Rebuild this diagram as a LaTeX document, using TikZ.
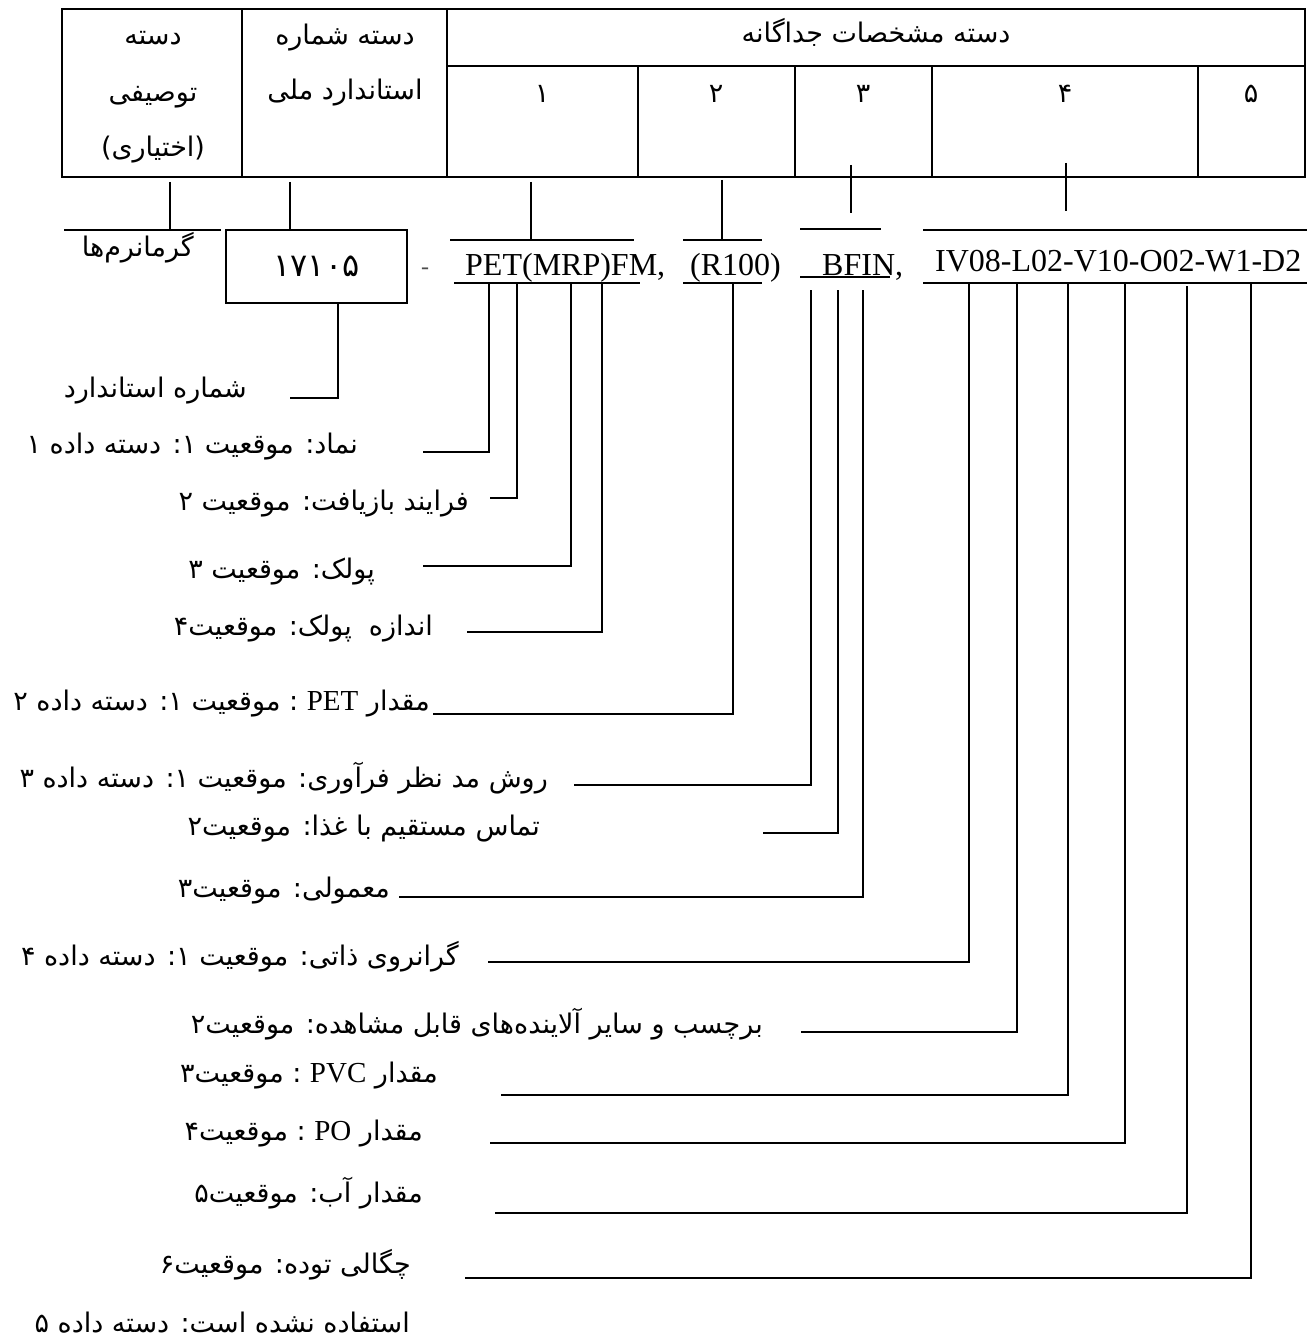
\documentclass[tikz,border=0pt]{standalone}
\usepackage{fontspec}
\setmainfont{Liberation Serif}
\newfontfamily\fa[Script=Arabic]{DejaVu Sans}
\newfontfamily\lat{Liberation Serif}
\TeXXeTstate=1
\newcommand\latin[1]{{\lat\fontsize{29}{32}\selectfont #1}}
\begin{document}
\begin{tikzpicture}[x=1pt,y=-1pt,
  tbl/.style={line width=2pt},
  ln/.style={line width=1.3pt},
  fa/.style={font=\fa\fontsize{27}{31}\selectfont, inner sep=0pt},
  lt/.style={font=\lat\fontsize{32}{36}\selectfont, inner sep=0pt},
  lab/.style={fa, anchor=base east}]
\useasboundingbox (0,0) rectangle (1315,1340);
% table
\draw[tbl] (62,9) rectangle (1305,177);
\draw[tbl] (242,9) -- (242,177);
\draw[tbl] (447,9) -- (447,177);
\draw[tbl] (447,66) -- (1305,66);
\draw[tbl] (638,66) -- (638,177);
\draw[tbl] (795,66) -- (795,177);
\draw[tbl] (932,66) -- (932,177);
\draw[tbl] (1198,66) -- (1198,177);
\node[fa, anchor=base] (a1) at (153,45) {\beginR دسته\endR};
\node[fa, anchor=base] (a2) at (153,102) {\beginR توصیفی\endR};
\node[fa, anchor=base] (a3) at (153,157) {\beginR (اختیاری)\endR};
\node[fa, anchor=base] (b1) at (345,45) {\beginR دسته شماره\endR};
\node[fa, anchor=base] (b2) at (345,100) {\beginR استاندارد ملی\endR};
\node[fa, anchor=base] (hd) at (876,43) {\beginR دسته مشخصات جداگانه\endR};
\node[fa, anchor=base] (c1) at (542,103) {۱};
\node[fa, anchor=base] (c2) at (716,103) {۲};
\node[fa, anchor=base] (c3) at (863,103) {۳};
\node[fa, anchor=base] (c4) at (1065,103) {۴};
\node[fa, anchor=base] (c5) at (1251,103) {۵};
% descriptive
\coordinate (t1a) at (170,182); \coordinate (t1b) at (170,230);
\draw[ln] (t1a) -- (t1b);
\coordinate (g1) at (64,230); \coordinate (g2) at (221,230);
\draw[ln] (g1) -- (g2);
\node[lab] (gram) at (194,257) {\beginR گرمانرم^^^^200cها\endR};
% standard number box
\node[draw, ln, minimum width=181pt, minimum height=73pt, fa, font=\fa\fontsize{32}{36}\selectfont, inner sep=0pt] (box) at (316.5,266.5) {۱۷۱۰۵};
\coordinate (t2a) at (290,182);
\draw[ln] (t2a) -- (t2a |- box.north);
\coordinate (bs) at (338,303); \coordinate (es) at (290,398);
\draw[ln] (bs) |- (es);
\node[lab] (lstd) at (247,397) {\beginR شماره استاندارد\endR};
\node[font=\lat\fontsize{24}{28}\selectfont, inner sep=0pt, text=black!70] (dash) at (425,271) {-};
% group 1
\node[lt, anchor=base west] (pet) at (465,275) {PET(MRP)FM,};
\coordinate (t3a) at (531,182); \coordinate (t3b) at (531,240);
\draw[ln] (t3a) -- (t3b);
\coordinate (pu1) at (450,240); \coordinate (pu2) at (634,240);
\coordinate (pl1) at (454,283); \coordinate (pl2) at (640,283);
\draw[ln] (pu1) -- (pu2); \draw[ln] (pl1) -- (pl2);
\coordinate (q1) at (489,283); \coordinate (e1) at (423,452);
\coordinate (q2) at (517,283); \coordinate (e2) at (490,498);
\coordinate (q3) at (571,283); \coordinate (e3) at (423,566);
\coordinate (q4) at (602,283); \coordinate (e4) at (467,632);
\draw[ln] (q1) |- (e1); \draw[ln] (q2) |- (e2);
\draw[ln] (q3) |- (e3); \draw[ln] (q4) |- (e4);
\node[lab] (l1) at (358,453) {\beginR نماد: موقعیت ۱: دسته داده ۱\endR};
\node[lab] (l2) at (469,510) {\beginR فرایند بازیافت: موقعیت ۲\endR};
\node[lab] (l3) at (375,578) {\beginR پولک: موقعیت ۳\endR};
\node[lab] (l4) at (433,635) {\beginR اندازه\ \ پولک: موقعیت۴\endR};
% group 2
\node[lt, anchor=base west] (r100) at (690,275) {(R100)};
\coordinate (t4a) at (722,180); \coordinate (t4b) at (722,240);
\draw[ln] (t4a) -- (t4b);
\coordinate (ru1) at (683,240); \coordinate (ru2) at (762,240);
\coordinate (rl1) at (683,283); \coordinate (rl2) at (762,283);
\draw[ln] (ru1) -- (ru2); \draw[ln] (rl1) -- (rl2);
\coordinate (rq) at (733,283); \coordinate (er) at (433,714);
\draw[ln] (rq) |- (er);
\node[lab] (l5) at (430,710) {\beginR مقدار \latin{PET} : موقعیت ۱: دسته داده ۲\endR};
% group 3
\node[lt, anchor=base west] (bfin) at (822,275) {BFIN,};
\coordinate (t5a) at (851,165); \coordinate (t5b) at (851,213);
\draw[ln] (t5a) -- (t5b);
\coordinate (bu1) at (800,229); \coordinate (bu2) at (881,229);
\coordinate (bl1) at (800,277); \coordinate (bl2) at (890,277);
\draw[ln] (bu1) -- (bu2); \draw[ln] (bl1) -- (bl2);
\coordinate (b1q) at (811,290); \coordinate (eb1) at (574,785);
\coordinate (b2q) at (838,290); \coordinate (eb2) at (763,833);
\coordinate (b3q) at (863,290); \coordinate (eb3) at (399,897);
\draw[ln] (b1q) |- (eb1); \draw[ln] (b2q) |- (eb2); \draw[ln] (b3q) |- (eb3);
\node[lab] (l6) at (548,787) {\beginR روش مد نظر فرآوری: موقعیت ۱: دسته داده ۳\endR};
\node[lab] (l7) at (540,835) {\beginR تماس مستقیم با غذا: موقعیت۲\endR};
\node[lab] (l8) at (390,897) {\beginR معمولی: موقعیت۳\endR};
% group 4
\node[lt, anchor=base west] (iv) at (935,272) {IV08-L02-V10-O02-W1-D2};
\coordinate (t6a) at (1066,163); \coordinate (t6b) at (1066,211);
\draw[ln] (t6a) -- (t6b);
\coordinate (iu1) at (923,230); \coordinate (iu2) at (1307,230);
\coordinate (il1) at (923,283); \coordinate (il2) at (1307,283);
\draw[ln] (iu1) -- (iu2); \draw[ln] (il1) -- (il2);
\coordinate (i1) at (969,283);  \coordinate (f1) at (488,962);
\coordinate (i2) at (1017,283); \coordinate (f2) at (801,1032);
\coordinate (i3) at (1068,283); \coordinate (f3) at (501,1095);
\coordinate (i4) at (1125,283); \coordinate (f4) at (490,1143);
\coordinate (i5) at (1187,286); \coordinate (f5) at (495,1213);
\coordinate (i6) at (1251,283); \coordinate (f6) at (465,1278);
\draw[ln] (i1) |- (f1); \draw[ln] (i2) |- (f2); \draw[ln] (i3) |- (f3);
\draw[ln] (i4) |- (f4); \draw[ln] (i5) |- (f5); \draw[ln] (i6) |- (f6);
\node[lab] (l9) at (459,965) {\beginR گرانروی ذاتی: موقعیت ۱: دسته داده ۴\endR};
\node[lab] (l10) at (763,1033) {\beginR برچسب و سایر آلاینده^^^^200cهای قابل مشاهده: موقعیت۲\endR};
\node[lab] (l11) at (438,1082) {\beginR مقدار \latin{PVC} : موقعیت۳\endR};
\node[lab] (l12) at (423,1140) {\beginR مقدار \latin{PO} : موقعیت۴\endR};
\node[lab] (l13) at (423,1202) {\beginR مقدار آب: موقعیت۵\endR};
\node[lab] (l14) at (411,1273) {\beginR چگالی توده: موقعیت۶\endR};
% group 5
\node[lab] (l15) at (410,1332) {\beginR استفاده نشده است: دسته داده ۵\endR};
\end{tikzpicture}
\end{document}
